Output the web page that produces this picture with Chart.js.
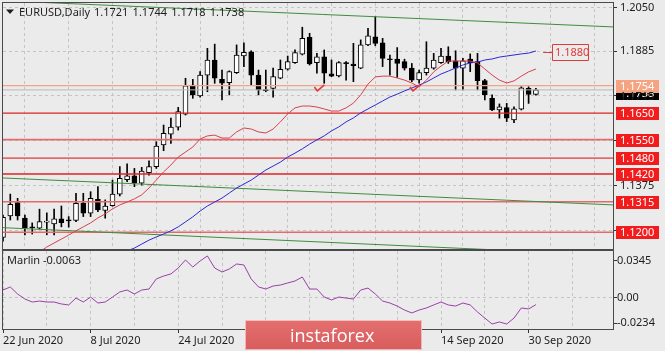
<!DOCTYPE html>
<html><head><meta charset="utf-8">
<script src="https://cdn.jsdelivr.net/npm/chart.js@4.4.0/dist/chart.umd.min.js"></script>
<style>
html,body{margin:0;padding:0;background:#ebebeb;}
#wrap{position:relative;width:665px;height:351px;overflow:hidden;background:#ebebeb;}
#c1{position:absolute;left:0;top:0;}
#c2{position:absolute;left:0;top:250px;}
</style></head><body>
<div id="wrap"><canvas id="c1" width="665" height="251"></canvas><canvas id="c2" width="665" height="101"></canvas></div>
<script>
const title = 'EURUSD,Daily';
const ohlcHeader = ['1.1721','1.1744','1.1718','1.1738'];
const openP = [1.1180,1.1261,1.1312,1.1253,1.1218,1.1215,1.1238,1.1231,1.1250,1.1244,
1.1244,1.1309,1.1272,1.1324,1.1282,1.1300,1.1344,1.1399,1.1413,1.1385,
1.1425,1.1448,1.1530,1.1571,1.1597,1.1646,1.1756,1.1715,1.1794,1.1851,
1.1778,1.1765,1.1803,1.1866,1.1882,1.1794,1.1738,1.1744,1.1782,1.1816,
1.1841,1.1873,1.1937,1.1841,1.1863,1.1799,1.1791,1.1838,1.1836,1.1820,
1.1908,1.1939,1.1916,1.1855,1.1854,1.1845,1.1820,1.1776,1.1803,1.1820,
1.1841,1.1866,1.1848,1.1820,1.1854,1.1845,1.1773,1.1706,1.1662,1.1671,
1.1624,1.1665,1.1744,1.1721];
const highP = [1.1265,1.1344,1.1328,1.1265,1.1235,1.1287,1.1273,1.1287,1.1299,1.1259,
1.1347,1.1347,1.1353,1.1372,1.1322,1.1397,1.1448,1.1458,1.1441,1.1445,
1.1470,1.1542,1.1605,1.1631,1.1672,1.1782,1.1778,1.1807,1.1895,1.1911,
1.1813,1.1810,1.1908,1.1916,1.1886,1.1813,1.1813,1.1820,1.1851,1.1866,
1.1889,1.1975,1.1952,1.1876,1.1889,1.1851,1.1845,1.1845,1.1914,1.1927,
1.1971,1.2015,1.1933,1.1870,1.1898,1.1854,1.1838,1.1813,1.1920,1.1876,
1.1895,1.1901,1.1886,1.1857,1.1874,1.1876,1.1778,1.1719,1.1685,1.1687,
1.1674,1.1750,1.1750,1.1744];
const lowP = [1.1166,1.1246,1.1246,1.1190,1.1193,1.1212,1.1190,1.1190,1.1220,1.1219,
1.1240,1.1259,1.1259,1.1278,1.1253,1.1298,1.1337,1.1391,1.1372,1.1378,
1.1416,1.1441,1.1508,1.1536,1.1586,1.1643,1.1706,1.1710,1.1731,1.1763,
1.1700,1.1719,1.1800,1.1826,1.1756,1.1719,1.1731,1.1710,1.1780,1.1813,
1.1838,1.1870,1.1832,1.1801,1.1763,1.1788,1.1787,1.1775,1.1769,1.1818,
1.1905,1.1905,1.1826,1.1794,1.1785,1.1813,1.1769,1.1763,1.1794,1.1816,
1.1838,1.1838,1.1738,1.1738,1.1807,1.1738,1.1700,1.1659,1.1631,1.1618,
1.1614,1.1662,1.1687,1.1718];
const closeP = [1.1256,1.1305,1.1261,1.1215,1.1216,1.1240,1.1242,1.1250,1.1236,1.1243,
1.1309,1.1272,1.1328,1.1284,1.1299,1.1344,1.1404,1.1413,1.1385,1.1431,
1.1448,1.1526,1.1574,1.1597,1.1656,1.1753,1.1719,1.1794,1.1851,1.1782,
1.1763,1.1807,1.1870,1.1880,1.1794,1.1738,1.1735,1.1788,1.1816,1.1845,
1.1879,1.1933,1.1836,1.1863,1.1801,1.1790,1.1841,1.1837,1.1830,1.1908,
1.1942,1.1914,1.1857,1.1852,1.1838,1.1820,1.1775,1.1803,1.1820,1.1851,
1.1866,1.1845,1.1820,1.1848,1.1841,1.1773,1.1719,1.1662,1.1674,1.1631,
1.1666,1.1746,1.1721,1.1738];
const maRed = [null,null,null,null,null,1.1125,1.1144,1.1159,1.1174,1.1189,
1.1205,1.1220,1.1235,1.1254,1.1269,1.1288,1.1303,1.1314,1.1326,1.1341,
1.1367,1.1397,1.1428,1.1454,1.1484,1.1503,1.1522,1.1552,1.1564,1.1567,
1.1556,1.1556,1.1579,1.1594,1.1590,1.1579,1.1575,1.1590,1.1617,1.1647,
1.1670,1.1677,1.1677,1.1673,1.1666,1.1658,1.1658,1.1670,1.1688,1.1719,
1.1760,1.1787,1.1790,1.1790,1.1783,1.1775,1.1764,1.1749,1.1775,1.1806,
1.1828,1.1847,1.1847,1.1847,1.1847,1.1840,1.1817,1.1794,1.1775,1.1764,
1.1772,1.1790,1.1806,1.1817];
const maBlue = [null,null,null,null,null,null,null,null,null,null,
null,null,null,null,null,null,1.1115,1.1129,1.1140,1.1155,
1.1170,1.1182,1.1193,1.1205,1.1220,1.1239,1.1258,1.1280,1.1299,1.1314,
1.1329,1.1348,1.1367,1.1382,1.1397,1.1416,1.1435,1.1450,1.1465,1.1484,
1.1499,1.1515,1.1533,1.1549,1.1564,1.1583,1.1598,1.1617,1.1632,1.1651,
1.1666,1.1681,1.1696,1.1711,1.1722,1.1734,1.1745,1.1756,1.1768,1.1783,
1.1798,1.1809,1.1821,1.1832,1.1840,1.1843,1.1851,1.1855,1.1862,1.1866,
1.1870,1.1874,1.1877,1.1885];
const marlin = [0.0072,0.0100,0.0035,-0.0011,-0.0039,-0.0030,-0.0039,-0.0039,-0.0057,-0.0066,
-0.0002,-0.0039,0.0007,-0.0048,-0.0039,0.0007,0.0054,0.0072,0.0035,0.0072,
0.0081,0.0174,0.0201,0.0220,0.0275,0.0349,0.0284,0.0340,0.0386,0.0275,
0.0238,0.0266,0.0312,0.0303,0.0174,0.0100,0.0081,0.0109,0.0118,0.0137,
0.0155,0.0192,0.0081,0.0081,0.0007,-0.0020,0.0007,-0.0002,-0.0011,0.0072,
0.0090,0.0035,-0.0030,-0.0048,-0.0076,-0.0113,-0.0140,-0.0113,-0.0094,-0.0066,
-0.0039,-0.0066,-0.0076,-0.0048,-0.0066,-0.0131,-0.0187,-0.0242,-0.0223,-0.0242,
-0.0187,-0.0094,-0.0103,-0.0063];
const dateLabels = ['22 Jun 2020','8 Jul 2020','24 Jul 2020','11 Aug 2020','27 Aug 2020','14 Sep 2020','30 Sep 2020'];
const dateLabelBars = [0,12,24,36,48,60,72];
const gridBars = [0,6,12,18,24,30,36,42,48,54,60,66,72,78];
const priceTicks = [1.2050,1.1885,1.1715,1.1545,1.1375,1.1205];
const levels = [1.1650,1.1550,1.1480,1.1420,1.1315,1.1200];
const levelStrong = [true,false,false,true,false,false];
const resistLevel = 1.1754;
const bidPrice = 1.1738;
const targetLevel = 1.1880;
const targetBars = [74.0, 75.2];
const trendX = [0, 83.6];
const trendUpper = [1.2075, 1.1976];
const trendMid = [1.1405, 1.1303];
const trendLow = [1.1217, 1.1113];
const checkBars = [43.2, 56.3];
const checkPrices = [1.1734, 1.1734];
const marlinTicks = [0.0345, 0, -0.0234];
const marlinName = 'Marlin';

const BG = '#ebebeb';
const XMIN = 0, XMAX = 83.56;
Chart.defaults.font.family = '"Noto Sans", "DejaVu Sans", sans-serif';
Chart.defaults.font.size = 11;
Chart.defaults.color = '#1e1e1e';

const pts = (arr) => arr.map((v, i) => ({x: i, y: v}));
const lineDs = (data, color, order, width) => ({type: 'line', data, borderColor: color, borderWidth: width || 1, pointRadius: 0, tension: 0, order, spanGaps: false});
const hLine = (v, color, order, width) => lineDs([{x: -2, y: v}, {x: 90, y: v}], color, order, width);

const datasets = [
  lineDs(pts(maRed), '#d8404f', 1),
  lineDs(pts(maBlue), '#2a2ad6', 1),
  lineDs(trendX.map((x, k) => ({x, y: trendUpper[k]})), '#3f8c3f', 2),
  lineDs(trendX.map((x, k) => ({x, y: trendMid[k]})), '#3f8c3f', 2),
  lineDs(trendX.map((x, k) => ({x, y: trendLow[k]})), '#3f8c3f', 2),
  hLine(resistLevel, '#f2a486', 3, 1.2),
  hLine(bidPrice, '#b8b8b8', 4, 1),
  ...levels.map((v, k) => hLine(v, levelStrong[k] ? '#dc2424' : '#e56b6b', 3, levelStrong[k] ? 1.3 : 1.6)),
  {type: 'bar', data: openP.map((o, i) => ({x: i, y: [o, closeP[i]]})), backgroundColor: openP.map((o, i) => closeP[i] >= o ? '#ffffff' : '#000000'),
   borderColor: '#000000', borderWidth: 1, borderSkipped: false, barThickness: 5, grouped: false, minBarLength: 1, order: 5},
  {type: 'bar', data: lowP.map((l, i) => ({x: i, y: [l, highP[i]]})), backgroundColor: '#000000', borderWidth: 0, barThickness: 1, grouped: false, order: 6}
];

function tag(ctx, a, py, bg, fg, text) {
  const yy = Math.round(py);
  ctx.fillStyle = bg; ctx.fillRect(a.right + 3, yy - 6, 43, 13);
  ctx.fillStyle = fg; ctx.font = '11px "Noto Sans"'; ctx.textAlign = 'left'; ctx.textBaseline = 'middle';
  ctx.fillText(text, a.right + 7, yy + 0.5);
}

const annotA = {
  id: 'annotA',
  beforeDraw(c) { const ctx = c.ctx; ctx.save(); ctx.fillStyle = BG; ctx.fillRect(0, 0, c.width, c.height); ctx.restore(); },
  afterDraw(c) {
    const {ctx, chartArea: a, scales: {x, y}} = c;
    ctx.save();
    ctx.strokeStyle = '#4a4a4a'; ctx.lineWidth = 1;
    ctx.strokeRect(a.left - 0.5, a.top - 0.5, a.right - a.left + 1, a.bottom - a.top + 1);
    // check marks
    ctx.strokeStyle = '#e23a3a'; ctx.lineWidth = 1.6; ctx.lineJoin = 'round';
    checkBars.forEach((b, k) => {
      const px = x.getPixelForValue(b), py = y.getPixelForValue(checkPrices[k]);
      ctx.beginPath(); ctx.moveTo(px - 4, py - 4); ctx.lineTo(px - 1, py); ctx.lineTo(px + 6, py - 6); ctx.stroke();
    });
    // target label
    const ty = Math.round(y.getPixelForValue(targetLevel)) + 0.5;
    const tx0 = x.getPixelForValue(targetBars[0]), tx1 = Math.round(x.getPixelForValue(targetBars[1])) + 0.5;
    ctx.strokeStyle = '#e03a3a'; ctx.lineWidth = 1;
    ctx.beginPath(); ctx.moveTo(tx0, ty); ctx.lineTo(tx1, ty); ctx.stroke();
    ctx.fillStyle = BG; ctx.fillRect(tx1, ty - 8, 36, 16);
    ctx.strokeRect(tx1, ty - 8, 36, 16);
    ctx.fillStyle = '#e03a3a'; ctx.font = '11px "Noto Sans"'; ctx.textBaseline = 'middle'; ctx.textAlign = 'left';
    ctx.fillText(targetLevel.toFixed(4), tx1 + 2.5, ty + 0.5);
    // axis tags
    tag(ctx, a, y.getPixelForValue(bidPrice) + 3, '#000000', '#ffffff', bidPrice.toFixed(4));
    tag(ctx, a, y.getPixelForValue(resistLevel), '#f6a382', '#ffffff', resistLevel.toFixed(4));
    ctx.fillStyle = '#1e1e1e'; ctx.font = '11px "Noto Sans"'; ctx.textBaseline = 'middle';
    ctx.fillText(priceTicks[2].toFixed(4), a.right + 7, y.getPixelForValue(priceTicks[2]) + 0.5);
    levels.forEach(v => tag(ctx, a, y.getPixelForValue(v), '#f21c1c', '#ffffff', v.toFixed(4)));
    // title
    ctx.fillStyle = '#1e1e1e';
    ctx.beginPath(); ctx.moveTo(6, 9.5); ctx.lineTo(14, 9.5); ctx.lineTo(10, 14); ctx.closePath(); ctx.fill();
    ctx.font = '11px "Noto Sans"'; ctx.textBaseline = 'middle'; ctx.textAlign = 'left';
    ctx.fillText(title, 19, 12.5);
    ohlcHeader.forEach((t, k) => ctx.fillText(t, 94 + k * 38.6, 12.5));
    ctx.restore();
  }
};

new Chart(document.getElementById('c1'), {
  type: 'bar',
  data: {datasets},
  options: {
    animation: false, responsive: false, devicePixelRatio: 1,
    layout: {padding: {left: 3, top: 3, right: 0, bottom: 2}},
    plugins: {legend: {display: false}, tooltip: {enabled: false}},
    scales: {
      x: {type: 'linear', min: XMIN, max: XMAX, offset: false,
        afterBuildTicks(s) { s.ticks = gridBars.map(v => ({value: v})); },
        afterFit(s) { s.height = 0; s.paddingLeft = 0; s.paddingRight = 0; },
        ticks: {display: false},
        grid: {color: '#c4c4c4', drawTicks: false, borderDash: [3, 3]},
        border: {display: false, dash: [3, 3]}},
      y: {position: 'right', min: 1.11364, max: 1.20665,
        afterBuildTicks(s) { s.ticks = priceTicks.map(v => ({value: v})); },
        afterFit(s) { s.width = 52; s.paddingTop = 0; s.paddingBottom = 0; },
        ticks: {callback: v => Number(v).toFixed(4), padding: 3, color: '#1e1e1e', font: {size: 11}},
        grid: {color: '#c4c4c4', tickLength: 4, tickColor: '#333333', tickBorderDash: [], borderDash: [3, 3]},
        border: {display: false, dash: [3, 3]}}
    }
  },
  plugins: [annotA]
});

const annotB = {
  id: 'annotB',
  beforeDraw(c) { const ctx = c.ctx; ctx.save(); ctx.fillStyle = BG; ctx.fillRect(0, 0, c.width, c.height); ctx.restore(); },
  afterDraw(c) {
    const {ctx, chartArea: a} = c;
    ctx.save();
    ctx.strokeStyle = '#4a4a4a'; ctx.lineWidth = 1;
    ctx.strokeRect(a.left - 0.5, a.top - 0.5, a.right - a.left + 1, a.bottom - a.top + 1);
    ctx.fillStyle = '#1e1e1e'; ctx.font = '11px "Noto Sans"'; ctx.textBaseline = 'middle'; ctx.textAlign = 'left';
    ctx.fillText(marlinName + ' ' + marlin[marlin.length - 1].toFixed(4), 7, 11);
    // watermark
    const wx = 245, wy = 70, ww = 177, wh = 30;
    const g = ctx.createLinearGradient(0, wy, 0, wy + wh);
    g.addColorStop(0, '#e46f6f'); g.addColorStop(1, '#d85c5c');
    ctx.fillStyle = g; ctx.fillRect(wx, wy, ww, wh);
    ctx.strokeStyle = 'rgba(255,255,255,0.55)'; ctx.strokeRect(wx + 0.5, wy + 0.5, ww - 1, wh - 1);
    ctx.fillStyle = '#ffffff'; ctx.font = '18px "Open Sans"'; ctx.textBaseline = 'alphabetic';
    ctx.fillText('instaforex', 290, 92);
    ctx.restore();
  }
};

new Chart(document.getElementById('c2'), {
  type: 'line',
  data: {datasets: [lineDs(pts(marlin), '#9c3fa8', 1)]},
  options: {
    animation: false, responsive: false, devicePixelRatio: 1,
    layout: {padding: {left: 3, top: 1, right: 0, bottom: 0}},
    plugins: {legend: {display: false}, tooltip: {enabled: false}},
    scales: {
      x: {type: 'linear', min: XMIN, max: XMAX, offset: false,
        afterBuildTicks(s) { s.ticks = gridBars.map(v => ({value: v})); },
        afterFit(s) { s.height = 22; s.paddingLeft = 0; s.paddingRight = 0; },
        ticks: {autoSkip: false, maxRotation: 0, minRotation: 0, align: 'start', padding: 1, color: '#1e1e1e', font: {size: 11},
          callback: v => { const k = dateLabelBars.indexOf(v); return k >= 0 ? dateLabels[k] : ''; }},
        grid: {color: '#c4c4c4', tickLength: 4, tickBorderDash: [], borderDash: [3, 3],
          tickColor: ctx => (ctx.tick && dateLabelBars.indexOf(ctx.tick.value) >= 0) ? '#333333' : 'rgba(0,0,0,0)'},
        border: {display: false, dash: [3, 3]}},
      y: {position: 'right', min: -0.0288, max: 0.0432,
        afterBuildTicks(s) { s.ticks = marlinTicks.map(v => ({value: v})); },
        afterFit(s) { s.width = 52; s.paddingTop = 0; s.paddingBottom = 0; },
        ticks: {callback: v => v === 0 ? '0.00' : Number(v).toFixed(4), padding: 0, color: '#1e1e1e', font: {size: 11}},
        grid: {color: ctx => (ctx.tick && ctx.tick.value === 0) ? '#c4c4c4' : 'rgba(0,0,0,0)', tickLength: 4, tickColor: '#333333', tickBorderDash: [], borderDash: [3, 3]},
        border: {display: false, dash: [3, 3]}}
    }
  },
  plugins: [annotB]
});
</script>
</body></html>
